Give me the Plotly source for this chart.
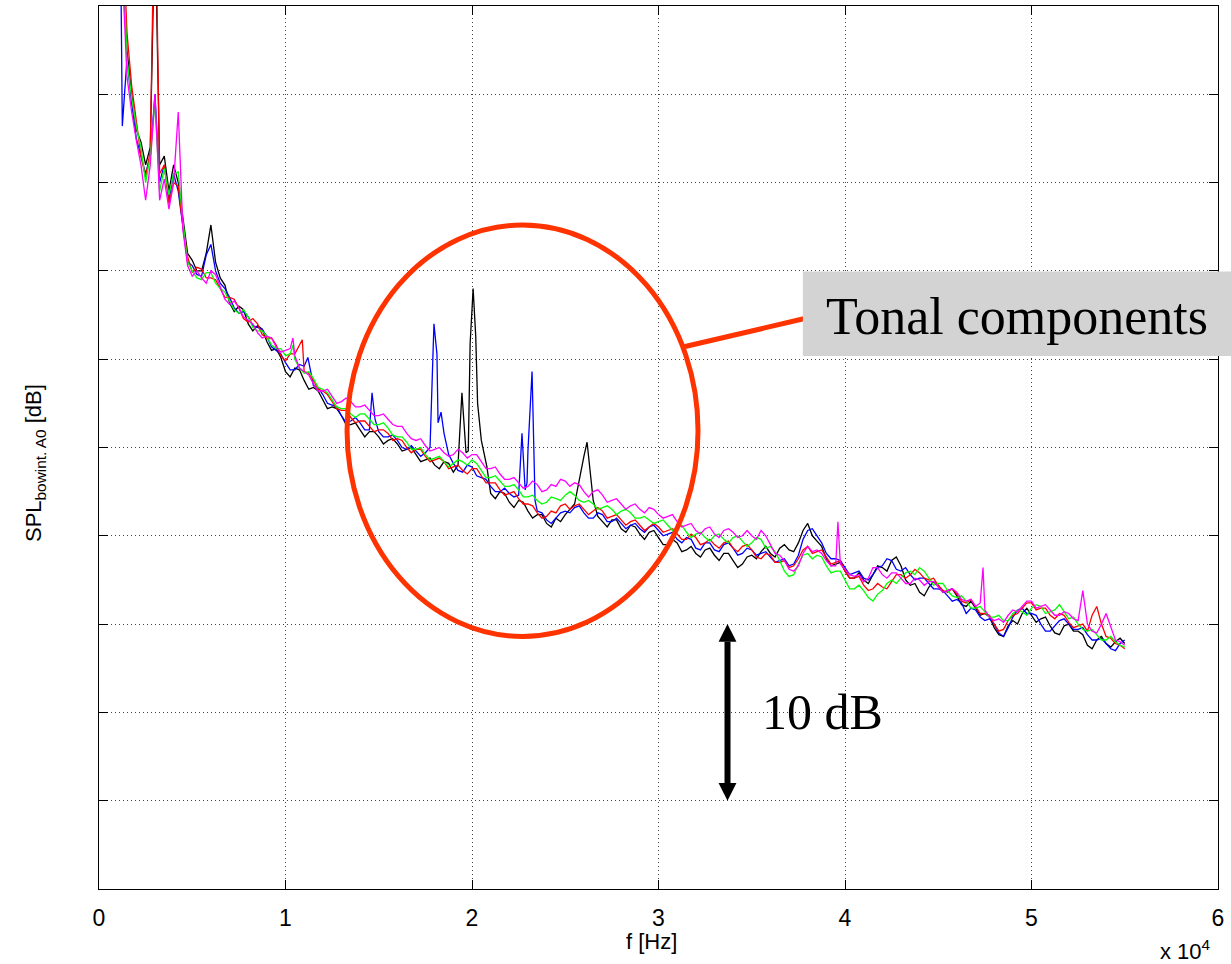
import plotly.graph_objects as go

# ---------------- data ----------------
F_LOW = [1100, 1250, 1500, 1750, 2000, 2250, 2500, 2750, 3000, 3250, 3500, 3750, 4000, 4250, 4500, 4750]
F_MAIN = list(range(5000, 55001, 500))
F_MID = list(range(5250, 55000, 500))

BLACK_LOW = [60, 53, 47.5, 45.0, 43.0, 42.3, 41.0, 42.0, 55, 41.0, 41.5, 39.5, 41.0, 40.0, 38.0, 36.0]
BLUE_LOW = [60, 43.2, 47.0, 44.5, 42.5, 41.5, 40.5, 41.5, 45.0, 40.0, 41.0, 39.0, 40.5, 39.5, 37.5, 35.5]
RED_LOW = [60, 55, 48.5, 45.5, 43.5, 41.5, 40.3, 41.8, 58, 40.5, 41.0, 38.8, 40.0, 39.8, 37.5, 35.8]
GREEN_LOW = [60, 54, 47.0, 44.8, 43.2, 42.0, 40.0, 41.5, 44.5, 39.5, 40.8, 39.3, 40.5, 40.6, 37.8, 35.5]
MAGENTA_LOW = [60, 52, 46.0, 44.0, 42.4, 41.0, 39.0, 41.0, 45.0, 39.0, 40.2, 38.5, 40.0, 44.0, 37.3, 35.3]

BLACK_MAIN = [35.6, 35.0, 37.6, 34.6, 33.2, 33.0, 32.0, 31.9, 31.0, 30.6,
              29.3, 29.5, 28.8, 28.4, 27.7, 27.3, 26.8, 26.3, 26.0, 25.9,
              25.6, 25.4, 25.2, 24.9, 24.6, 24.3, 24.0, 24.2, 23.6, 27.5,
              32.8, 25.4, 22.4, 22.5, 21.9, 22.0, 21.4, 21.2, 20.7, 21.0,
              21.2, 21.8, 24.5, 22.0, 20.8, 20.9, 20.4, 20.6, 20.1, 20.2,
              19.9, 19.5, 19.6, 19.2, 19.0, 19.2, 18.9, 19.0, 18.6, 18.4,
              18.9, 19.1, 19.0, 19.3, 19.2, 19.6, 20.7, 19.7, 18.7, 18.4,
              18.0, 17.6, 17.5, 17.8, 18.2, 18.6, 18.3, 17.2, 16.8, 17.1,
              17.2, 16.9, 16.6, 16.0, 15.9, 15.6, 14.8, 14.3, 15.2, 15.6,
              15.5, 15.3, 14.9, 14.4, 15.0, 14.6, 13.8, 14.1, 13.9, 14.0,
              13.9]
BLACK_MID = [35.0, 36.0, 35.5, 34.2, 32.7, 32.8, 31.6, 31.7, 30.5, 30.1,
             29.0, 29.4, 28.3, 28.2, 27.2, 27.2, 26.3, 26.4, 25.6, 25.9,
             25.2, 25.5, 24.8, 25.0, 24.2, 24.4, 23.8, 24.1, None, None,
             None, None, 22.1, 22.4, 21.6, 21.9, 21.0, 21.2, 20.5, 20.8,
             21.5, None, None, 21.1, 20.5, 20.9, 20.2, 20.5, 19.8, 20.3,
             19.5, 19.8, 19.1, 19.4, 18.8, 19.3, 18.6, 19.0, 18.2, 18.8,
             18.7, 19.4, 18.8, 19.5, 19.1, 20.3, 20.0, 19.4, 18.3, 18.5,
             17.6, 17.9, 17.3, 18.3, 18.0, 18.8, 17.5, 17.3, 16.6, 17.4,
             16.8, 17.0, 16.1, 16.3, 15.5, 15.4, 14.4, 14.9, 15.0, 15.9,
             15.1, 15.4, 14.5, 14.9, 14.6, 14.4, 13.6, 14.3, 13.7, 14.2]

BLUE_MAIN = [35.3, 34.7, 36.5, 34.3, 33.5, 32.6, 32.4, 31.8, 31.3, 30.5,
             29.8, 29.4, 29.6, 28.5, 28.0, 27.4, 26.8, 26.5, 26.4, 26.0,
             25.9, 25.6, 25.4, 24.9, 24.8, 24.7, 31.5, 25.8, 24.1, 23.6,
             23.9, 23.3, 22.8, 22.5, 22.4, 22.3, 24.8, 21.4, 20.9, 21.0,
             21.4, 21.6, 21.3, 21.0, 21.2, 20.8, 20.7, 20.6, 20.4, 20.5,
             20.3, 20.1, 19.8, 19.9, 19.3, 19.6, 19.2, 19.5, 19.3, 19.0,
             19.2, 19.0, 18.8, 18.6, 18.3, 18.9, 20.3, 20.0, 19.0, 18.7,
             18.2, 17.9, 17.6, 17.8, 18.3, 18.6, 18.0, 17.8, 17.6, 17.3,
             17.0, 16.6, 16.4, 15.6, 15.8, 15.2, 15.0, 14.3, 15.4, 15.9,
             15.6, 15.0, 14.6, 15.2, 15.0, 14.7, 14.4, 14.1, 13.9, 13.5,
             14.1]
BLUE_MID = [34.8, 35.9, 35.0, 34.0, 32.9, 32.7, 31.9, 31.7, 30.7, 30.3,
            29.4, 29.7, None, 28.4, 27.5, 27.3, 26.4, 26.7, 26.0, None,
            25.6, 25.7, 25.0, 25.1, 24.5, None, None, 24.6, 23.7, 24.0,
            23.4, 23.2, 22.5, 22.7, 22.2, None, None, 21.3, 20.7, 21.3,
            21.3, 21.7, 21.0, 21.3, 20.8, 21.0, 20.4, 20.7, 20.2, 20.6,
            20.0, 20.2, 19.6, 19.8, 19.2, 19.6, 19.1, 19.6, 18.9, 19.3,
            18.9, 19.1, 18.5, 18.7, 18.4, 19.8, 20.4, 19.6, 18.7, 18.6,
            17.8, 18.0, 17.5, 18.2, 18.7, 18.1, 18.2, 17.5, 17.6, 17.0,
            16.9, 16.3, 16.2, 15.9, 15.4, 15.3, 14.5, 14.8, 15.8, 15.6,
            15.5, 14.6, 14.9, 15.3, 14.7, 14.8, 14.1, 14.2, 13.6, 13.9]

RED_MAIN = [34.9, 35.1, 34.6, 34.0, 33.5, 32.9, 32.1, 32.0, 31.2, 30.8,
            29.9, 30.3, 29.3, 28.8, 28.2, 27.6, 27.1, 26.7, 26.5, 26.2,
            26.0, 25.8, 25.5, 25.0, 24.9, 24.5, 24.3, 24.2, 23.9, 23.7,
            23.8, 23.4, 23.0, 22.6, 22.4, 22.1, 21.8, 21.3, 21.1, 21.3,
            21.8, 21.7, 21.5, 21.4, 21.4, 21.1, 20.9, 20.8, 20.6, 20.5,
            20.5, 20.3, 20.1, 19.8, 19.9, 19.6, 19.5, 19.6, 19.3, 19.4,
            19.2, 18.7, 18.9, 18.5, 18.2, 18.7, 19.4, 19.1, 18.8, 18.5,
            18.0, 17.6, 17.2, 17.0, 17.1, 17.4, 17.8, 17.8, 17.9, 17.5,
            17.2, 16.8, 16.7, 16.2, 16.0, 15.6, 15.0, 14.7, 15.5, 15.9,
            16.2, 15.9, 15.5, 15.6, 15.1, 14.9, 14.6, 16.0, 14.3, 13.9,
            13.6]
RED_MID = [35.2, 34.6, 34.5, 33.5, 33.4, 32.3, 32.3, 31.4, 31.2, 30.2,
           30.3, None, 29.2, 28.3, 28.0, 27.2, 27.1, 26.4, 26.5, 25.9,
           26.0, 25.4, 25.4, 24.7, 24.9, 24.2, 24.4, 23.8, 24.0, 23.5,
           23.8, 23.0, 23.0, 22.3, 22.5, 21.8, 21.7, 21.0, 21.4, 21.7,
           21.5, 21.8, 21.2, 21.6, 21.0, 21.2, 20.6, 20.9, 20.3, 20.7,
           20.2, 20.4, 19.8, 20.1, 19.5, 19.8, 19.3, 19.7, 19.1, 19.5,
           18.8, 19.0, 18.5, 18.6, 18.3, 19.2, 19.0, 19.2, 18.4, 18.6,
           17.6, 17.7, 16.9, 17.3, 17.0, 17.8, 17.6, 18.1, 17.6, 17.6,
           16.9, 17.0, 16.3, 16.4, 15.6, 15.5, 14.6, 15.2, 15.6, 16.2,
           15.8, 15.9, 15.3, 15.5, 14.8, 15.0, 15.5, 15.0, 14.2, 13.8]

GREEN_MAIN = [35.0, 34.5, 34.9, 34.0, 33.3, 32.6, 32.4, 31.6, 31.3, 30.6,
              30.2, 30.0, 29.2, 28.9, 28.3, 27.7, 27.2, 26.9, 26.9, 26.6,
              26.3, 26.1, 25.6, 25.3, 24.9, 24.6, 24.4, 24.2, 24.1, 24.2,
              24.3, 23.7, 23.3, 23.1, 22.8, 22.6, 22.2, 22.0, 21.9, 22.1,
              22.3, 22.3, 21.9, 21.8, 21.6, 21.5, 21.4, 21.3, 21.0, 20.9,
              20.8, 20.6, 20.5, 20.2, 20.1, 19.9, 20.0, 19.8, 19.9, 19.7,
              19.6, 19.8, 19.4, 18.6, 17.7, 18.4, 19.0, 18.9, 18.3, 18.0,
              17.5, 17.0, 16.9, 16.3, 16.9, 17.5, 17.6, 18.0, 18.2, 17.6,
              17.3, 16.9, 16.5, 16.3, 15.9, 15.7, 15.4, 15.2, 15.6, 15.7,
              15.9, 16.0, 15.7, 16.1, 15.3, 15.0, 14.6, 14.4, 14.1, 14.0,
              13.7]
GREEN_MID = [34.6, 34.9, 34.3, 33.8, 32.8, 32.8, 31.8, 31.6, 30.8, 30.6,
             30.3, 29.5, 29.3, 28.4, 28.1, 27.3, 27.2, 26.7, 26.9, 26.3,
             26.4, 25.7, 25.6, 24.9, 25.0, 24.3, 24.5, 23.9, 24.3, 24.0,
             24.1, 23.3, 23.4, 22.8, 22.9, 22.2, 22.3, 21.8, 22.2, 22.0,
             22.5, 22.0, 22.0, 21.5, 21.7, 21.2, 21.5, 21.0, 21.1, 20.7,
             20.9, 20.3, 20.6, 19.9, 20.2, 19.7, 20.1, 19.6, 20.0, 19.4,
             19.9, 19.3, 19.1, 18.0, 17.8, 18.9, 18.7, 18.8, 17.9, 18.0,
             17.0, 17.2, 16.5, 16.7, 17.3, 17.3, 17.9, 17.8, 18.0, 17.2,
             17.3, 16.6, 16.6, 15.9, 16.0, 15.4, 15.5, 15.2, 15.8, 15.5,
             16.1, 15.6, 15.8, 15.7, 15.4, 14.7, 14.7, 14.1, 14.3, 13.8]

MAGENTA_MAIN = [34.7, 34.6, 35.0, 34.1, 33.1, 32.9, 32.2, 31.5, 31.3, 30.7,
                30.5, 30.2, 29.3, 28.6, 28.2, 27.9, 27.6, 27.6, 27.3, 27.1,
                26.8, 26.6, 26.2, 25.8, 25.4, 25.1, 24.9, 24.7, 24.6, 24.7,
                24.6, 24.2, 23.8, 23.5, 23.2, 23.0, 22.8, 22.9, 22.6, 22.8,
                23.1, 23.0, 22.5, 22.5, 22.3, 22.0, 21.8, 21.7, 21.5, 21.6,
                21.2, 21.1, 20.8, 20.6, 20.3, 20.4, 20.1, 20.3, 20.2, 20.0,
                20.0, 20.3, 19.5, 18.9, 18.1, 18.3, 19.4, 19.2, 18.6, 18.3,
                18.1, 17.7, 17.4, 18.2, 17.8, 17.9, 17.6, 17.3, 17.5, 17.4,
                17.1, 16.9, 16.8, 16.3, 16.0, 15.8, 15.2, 15.1, 15.8, 16.0,
                16.3, 16.0, 15.8, 15.5, 15.6, 15.2, 15.0, 14.5, 15.6, 14.1,
                13.8]
MAGENTA_MID = [35.0, 34.3, 34.8, 33.4, 33.3, 32.4, 32.0, 31.2, 31.2, 30.4,
               30.6, 29.5, 29.1, 28.2, 28.3, 27.5, 27.8, 27.3, 27.4, 26.8,
               26.9, 26.3, 26.2, 25.5, 25.5, 24.8, 25.0, 24.5, 24.9, 24.4,
               24.6, 23.8, 23.9, 23.2, 23.3, 22.7, 23.1, 22.5, 22.9, 23.2,
               22.8, 22.9, 22.2, 22.6, 21.9, 22.1, 21.5, 21.8, 21.3, 21.5,
               21.0, 21.2, 20.5, 20.7, 20.1, 20.5, 19.9, 20.4, 19.9, 20.3,
               19.8, 20.0, 19.0, 18.6, 18.0, 19.0, 19.1, 19.0, 18.3, None,
               17.8, 17.8, 17.6, 18.2, 17.6, 17.9, 17.3, 17.6, 17.2, 17.4,
               16.8, 17.0, 16.4, 16.4, 16.2, 15.4, 15.3, 15.5, 15.7, 16.3,
               15.9, 16.1, 15.5, 15.7, 15.3, None, 14.6, 15.0, 14.8, 14.0]

# tonal peaks / narrow spikes
BLACK_PK_F = [19250, 19460, 19680, 19800, 19900, 20060, 20200, 20300, 20800, 26170]
BLACK_PK_DB = [24.0, 28.1, 24.7, 24.8, 30.9, 34.0, 31.3, 27.5, 23.9, 25.3]
BLUE_PK_F = [11200, 14640, 14800, 17750, 17960, 18120, 18180, 18340, 22680, 22850, 22950, 23220, 23380]
BLUE_PK_DB = [30.1, 28.1, 26.6, 25.0, 32.0, 30.3, 26.4, 27.0, 25.8, 22.6, 23.0, 29.3, 22.0]
RED_PK_F = [10900]
RED_PK_DB = [31.1]
GREEN_PK_F = [10400]
GREEN_PK_DB = [30.8]
MAGENTA_PK_F = [10400, 39620, 39750, 47400, 52750]
MAGENTA_PK_DB = [31.2, 20.8, 18.4, 18.2, 16.9]

X_TICKS = [0, 10000, 20000, 30000, 40000, 50000, 60000]
X_TICK_LABELS = ["0", "1", "2", "3", "4", "5", "6"]
Y_TICKS = [0, 5, 10, 15, 20, 25, 30, 35, 40, 45, 50]

SERIES = [
    ("black", "#000000", BLACK_LOW, BLACK_MAIN, BLACK_MID, BLACK_PK_F, BLACK_PK_DB),
    ("blue", "#0000ff", BLUE_LOW, BLUE_MAIN, BLUE_MID, BLUE_PK_F, BLUE_PK_DB),
    ("red", "#ff0000", RED_LOW, RED_MAIN, RED_MID, RED_PK_F, RED_PK_DB),
    ("green", "#00ff00", GREEN_LOW, GREEN_MAIN, GREEN_MID, GREEN_PK_F, GREEN_PK_DB),
    ("magenta", "#ff00ff", MAGENTA_LOW, MAGENTA_MAIN, MAGENTA_MID, MAGENTA_PK_F, MAGENTA_PK_DB),
]


def build(low, main, mid, pk_f, pk_db):
    pts = list(zip(F_LOW, low)) + list(zip(F_MAIN, main))
    pts += [(f, v) for f, v in zip(F_MID, mid) if v is not None]
    pts += list(zip(pk_f, pk_db))
    pts.sort(key=lambda p: p[0])
    return [p[0] for p in pts], [p[1] for p in pts]


fig = go.Figure()
for name, color, low, main, mid, pf, pd_ in SERIES:
    xs, ys = build(low, main, mid, pf, pd_)
    fig.add_trace(go.Scatter(x=xs, y=ys, mode="lines", name=name,
                             line=dict(color=color, width=1.3)))

AX_FONT = "Liberation Sans, Arial, sans-serif"
SERIF = "Liberation Serif, Times New Roman, serif"

fig.update_layout(
    width=1231, height=964,
    margin=dict(l=99, r=13, t=6, b=75),
    plot_bgcolor="white", paper_bgcolor="white",
    showlegend=False,
    font=dict(family=AX_FONT, color="black"),
)
grid = dict(showgrid=True, gridcolor="#444444", gridwidth=1, griddash="1px,3px",
            zeroline=False, showline=True, linecolor="black", linewidth=1,
            mirror="ticks", ticks="inside", ticklen=9, tickcolor="black", tickwidth=1)
fig.update_xaxes(range=[0, 60000], tickvals=X_TICKS, ticktext=X_TICK_LABELS,
                 tickfont=dict(size=23, family=AX_FONT), ticklabelstandoff=8, **grid)
fig.update_yaxes(range=[0, 50], tickvals=Y_TICKS, showticklabels=False, **grid)

# red ellipse around the tonal components
fig.add_shape(type="circle", xref="x", yref="y", x0=13300, x1=32120, y0=14.3, y1=37.6,
              line=dict(color="#ff3300", width=5), layer="above")
# connector line to the label box
fig.add_shape(type="line", xref="paper", yref="paper", x0=0.5219, y0=0.6138, x1=0.6326, y1=0.6466,
              line=dict(color="#ff3300", width=5), layer="above")
# grey label box
fig.add_shape(type="rect", xref="paper", yref="paper", x0=0.629, x1=1.02, y0=0.6036, y1=0.6993,
              fillcolor="#d3d3d3", line=dict(width=0), layer="above")
fig.add_annotation(xref="paper", yref="paper", x=0.8204, y=0.6478, text="Tonal components",
                   showarrow=False, font=dict(family=SERIF, size=52, color="black"),
                   xanchor="center", yanchor="middle")

# 10 dB double arrow (from 5 dB to 15 dB)
AX = 33700
fig.add_shape(type="line", xref="x", yref="y", x0=AX, x1=AX, y0=6.0, y1=14.0,
              line=dict(color="black", width=6), layer="above")
fig.add_shape(type="path", xref="x", yref="y",
              path=f"M {AX-480},14.0 L {AX+480},14.0 L {AX},15.0 Z",
              fillcolor="black", line=dict(width=0), layer="above")
fig.add_shape(type="path", xref="x", yref="y",
              path=f"M {AX-480},6.0 L {AX+480},6.0 L {AX},5.0 Z",
              fillcolor="black", line=dict(width=0), layer="above")
fig.add_annotation(xref="x", yref="y", x=38770, y=10.0, text="10 dB", showarrow=False,
                   font=dict(family=SERIF, size=50, color="black"),
                   xanchor="center", yanchor="middle")

# axis labels
fig.add_annotation(xref="paper", yref="paper", x=0.4933, y=-0.0589, text="f [Hz]",
                   showarrow=False, font=dict(family=AX_FONT, size=22, color="black"),
                   xanchor="center", yanchor="middle")
fig.add_annotation(xref="paper", yref="paper", x=0.9714, y=-0.0691, text="x 10<sup>4</sup>",
                   showarrow=False, font=dict(family=AX_FONT, size=22, color="black"),
                   xanchor="center", yanchor="middle")
fig.add_annotation(xref="paper", yref="paper", x=-0.0572, y=0.4824,
                   text="SPL<sub>bowint. A0</sub> [dB]", textangle=-90,
                   showarrow=False, font=dict(family=AX_FONT, size=22, color="black"),
                   xanchor="center", yanchor="middle")

fig.write_html("out.html")
